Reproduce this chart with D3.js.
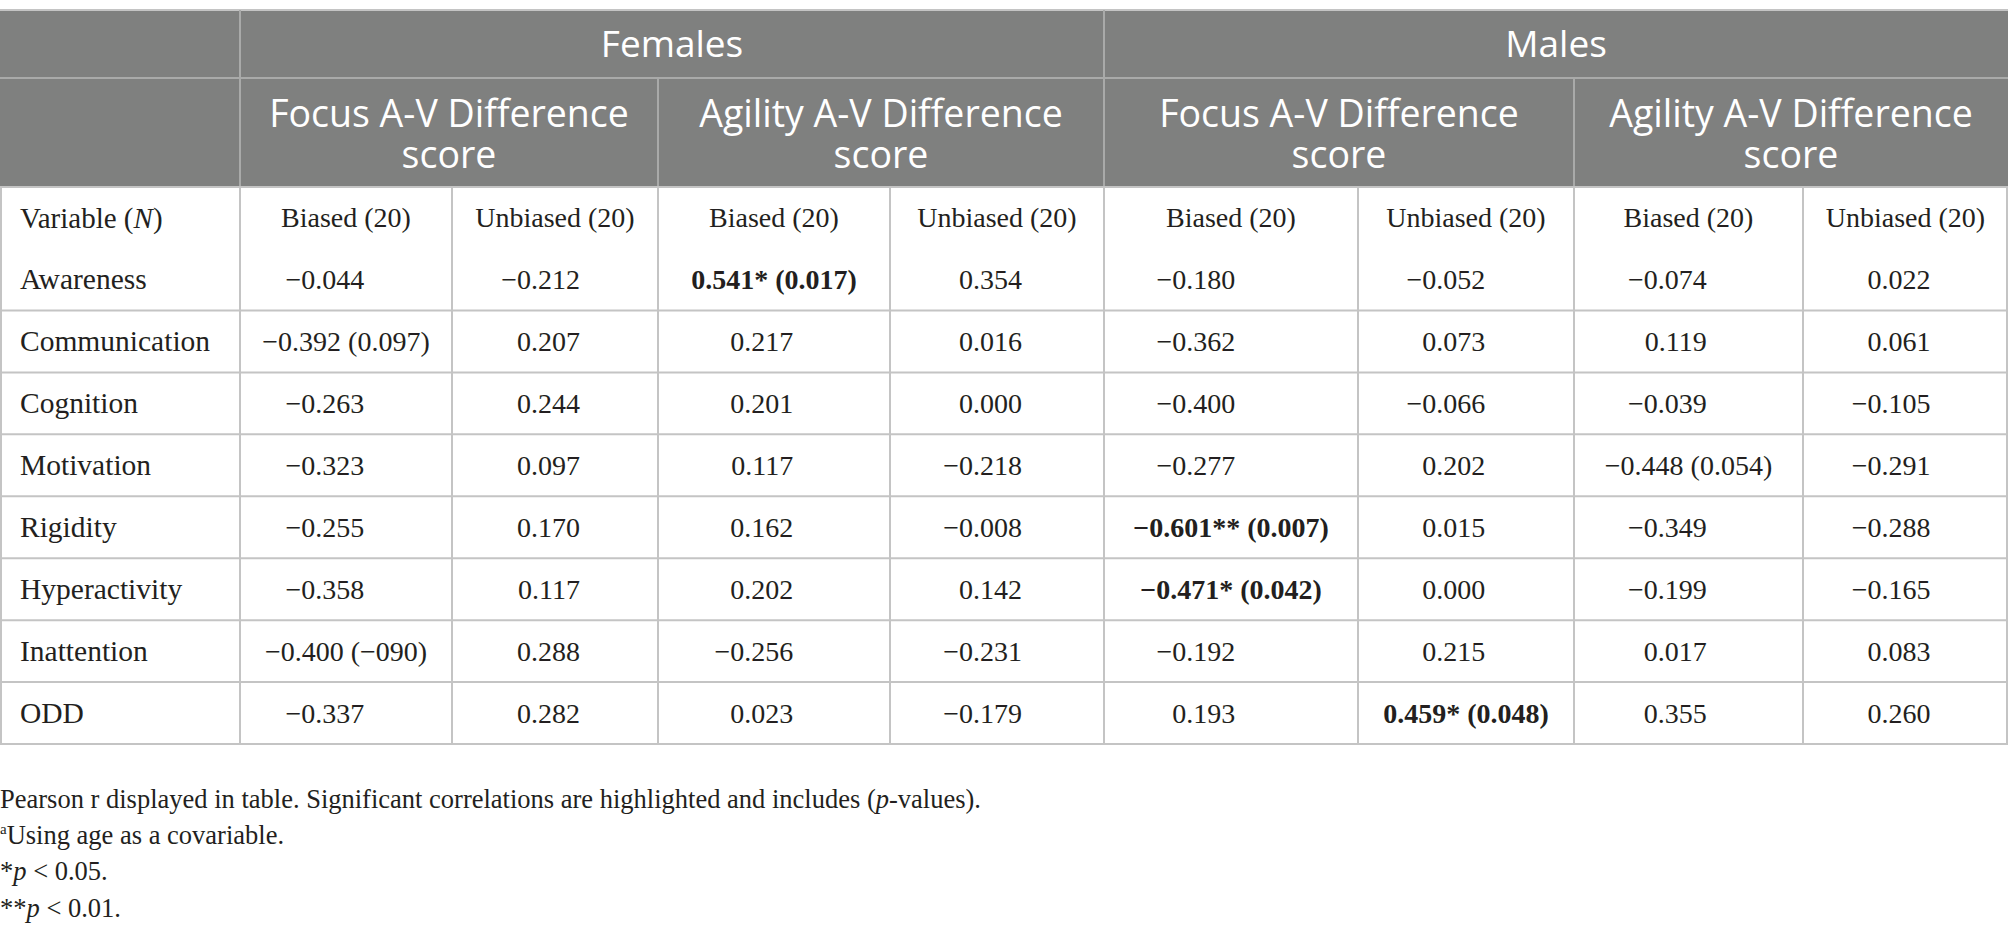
<!DOCTYPE html>
<html>
<head>
<meta charset="utf-8">
<script src="https://cdn.jsdelivr.net/npm/d3@7"></script>
<style>
  body { margin: 0; background: #fff; }
  svg { display: block; }
  .hd { font-family: "Open Sans", sans-serif; fill: #fff; }
  .bd { font-family: "Liberation Serif", "Times New Roman", serif; fill: #231f20; }
</style>
</head>
<body>
<svg id="chart" width="2009" height="941"></svg>
<script>
// table content
var groups = ["Females", "Males"];
var measures = [["Focus A-V Difference", "score"], ["Agility A-V Difference", "score"]];
var subCols = ["Biased (20)", "Unbiased (20)"];
var variables = ["Awareness", "Communication", "Cognition", "Motivation", "Rigidity", "Hyperactivity", "Inattention", "ODD"];

var femFocusBiased     = ["−0.044", "−0.392 (0.097)", "−0.263", "−0.323", "−0.255", "−0.358", "−0.400 (−090)", "−0.337"];
var femFocusUnbiased   = ["−0.212", "0.207", "0.244", "0.097", "0.170", "0.117", "0.288", "0.282"];
var femAgilityBiased   = ["0.541* (0.017)", "0.217", "0.201", "0.117", "0.162", "0.202", "−0.256", "0.023"];
var femAgilityUnbiased = ["0.354", "0.016", "0.000", "−0.218", "−0.008", "0.142", "−0.231", "−0.179"];
var maleFocusBiased    = ["−0.180", "−0.362", "−0.400", "−0.277", "−0.601** (0.007)", "−0.471* (0.042)", "−0.192", "0.193"];
var maleFocusUnbiased  = ["−0.052", "0.073", "−0.066", "0.202", "0.015", "0.000", "0.215", "0.459* (0.048)"];
var maleAgilityBiased  = ["−0.074", "0.119", "−0.039", "−0.448 (0.054)", "−0.349", "−0.199", "0.017", "0.355"];
var maleAgilityUnbiased= ["0.022", "0.061", "−0.105", "−0.291", "−0.288", "−0.165", "0.083", "0.260"];

var columns = [femFocusBiased, femFocusUnbiased, femAgilityBiased, femAgilityUnbiased,
               maleFocusBiased, maleFocusUnbiased, maleAgilityBiased, maleAgilityUnbiased];

// layout
var HEAD_BG = "#7f807f", HEAD_LINE = "#a9aaa9", GRID = "#c4c4c4";
var colEdges = [0, 240, 452, 658, 890, 1104, 1358, 1574, 1803, 2008];
var x = d3.scaleLinear().domain(d3.range(colEdges.length)).range(colEdges);
var y = d3.scaleBand().domain(variables).range([248.5, 744]);
var TOP = 10, H1 = 78, H2 = 187, H3 = 248.5;
var BODY_SIZE = 28;

var svg = d3.select("#chart");

// header background
svg.append("rect").attr("x", 0).attr("y", TOP).attr("width", x(9)).attr("height", H2 - TOP).attr("fill", HEAD_BG);

var lines = svg.append("g");
function hline(x1, x2, yy, c){ lines.append("line").attr("x1", x1).attr("x2", x2).attr("y1", yy).attr("y2", yy).attr("stroke", c).attr("stroke-width", 2); }
function vline(xx, y1, y2, c){ lines.append("line").attr("x1", xx).attr("x2", xx).attr("y1", y1).attr("y2", y2).attr("stroke", c).attr("stroke-width", 2); }

hline(0, x(9), TOP, GRID);
hline(0, x(9), H1, HEAD_LINE);
[1, 5].forEach(function(i){ vline(x(i), TOP, H1, HEAD_LINE); });
[1, 3, 5, 7].forEach(function(i){ vline(x(i), H1, H2, HEAD_LINE); });

// body grid
hline(0, x(9), H2, GRID);
variables.forEach(function(v){ hline(0, x(9), y(v) + y.bandwidth(), GRID); });
d3.range(10).forEach(function(i){ vline(i == 0 ? 1 : (i == 9 ? x(9) - 1 : x(i)), H2, 744, GRID); });

// header texts
svg.selectAll("text.group").data(groups).enter().append("text")
    .attr("class", "hd group")
    .attr("x", function(d, i){ return (x(1 + i*4) + x(5 + i*4)) / 2; })
    .attr("y", (TOP + H1) / 2).attr("dy", "0.36em")
    .attr("text-anchor", "middle").attr("font-size", 37)
    .text(function(d){ return d; });

var meas = [];
groups.forEach(function(g, gi){ measures.forEach(function(m, mi){ meas.push({lines: m, col: 1 + gi*4 + mi*2}); }); });
svg.selectAll("text.measure").data(meas).enter().append("text")
    .attr("class", "hd measure")
    .attr("text-anchor", "middle").attr("font-size", 37.5)
    .each(function(d){
        var t = d3.select(this), cx = (x(d.col) + x(d.col + 2)) / 2;
        d.lines.forEach(function(l, li){
            t.append("tspan").attr("x", cx).attr("y", 113 + li*41).attr("dy", "0.36em").text(l);
        });
    });

// subheader row
var sub = svg.append("g").attr("class", "bd").attr("font-size", BODY_SIZE);
var varHead = sub.append("text").attr("x", 20).attr("y", (H2 + H3) / 2).attr("dy", "0.34em").attr("font-size", 29);
varHead.append("tspan").text("Variable (");
varHead.append("tspan").attr("font-style", "italic").text("N");
varHead.append("tspan").text(")");
d3.range(8).forEach(function(i){
    sub.append("text").attr("x", (x(i + 1) + x(i + 2)) / 2).attr("y", (H2 + H3) / 2).attr("dy", "0.34em")
        .attr("text-anchor", "middle").text(subCols[i % 2]);
});

// variable labels
svg.append("g").attr("class", "bd").attr("font-size", 29.5)
    .selectAll("text").data(variables).enter().append("text")
    .attr("x", 20).attr("y", function(d){ return y(d) + y.bandwidth()/2; }).attr("dy", "0.34em")
    .text(function(d){ return d; });

// values
columns.forEach(function(col, ci){
    var left = x(ci + 1), right = x(ci + 2), cx = (left + right) / 2;
    var g = svg.append("g").attr("class", "bd").attr("font-size", BODY_SIZE);
    var cells = g.selectAll("text").data(col).enter().append("text")
        .attr("y", function(d, i){ return y(variables[i]) + y.bandwidth()/2; }).attr("dy", "0.34em")
        .attr("font-weight", function(d){ return d.indexOf("*") >= 0 ? "bold" : null; })
        .text(function(d){ return d; });
    // long entries centred, plain numbers right aligned
    var start = null;
    cells.filter(function(d){ return d.indexOf("(") >= 0; })
        .attr("x", cx).attr("text-anchor", "middle")
        .each(function(){ var s = cx - this.getComputedTextLength()/2; start = start == null ? s : Math.min(start, s); });
    var endX = start == null ? cx + 25 : start + 102;
    cells.filter(function(d){ return d.indexOf("(") < 0; })
        .attr("x", endX).attr("text-anchor", "end");
});

// notes
var notes = svg.append("g").attr("class", "bd").attr("font-size", 26.5);
var n1 = notes.append("text").attr("x", 0).attr("y", 808);
n1.append("tspan").text("Pearson r displayed in table. Significant correlations are highlighted and includes (");
n1.append("tspan").attr("font-style", "italic").text("p");
n1.append("tspan").text("-values).");
var n2 = notes.append("text").attr("x", 0).attr("y", 844);
n2.append("tspan").attr("font-size", 15).attr("dy", -10).text("a");
n2.append("tspan").attr("dy", 10).text("Using age as a covariable.");
var n3 = notes.append("text").attr("x", 0).attr("y", 880);
n3.append("tspan").text("*");
n3.append("tspan").attr("font-style", "italic").text("p");
n3.append("tspan").text(" < 0.05.");
var n4 = notes.append("text").attr("x", 0).attr("y", 917);
n4.append("tspan").text("**");
n4.append("tspan").attr("font-style", "italic").text("p");
n4.append("tspan").text(" < 0.01.");
</script>
</body>
</html>
